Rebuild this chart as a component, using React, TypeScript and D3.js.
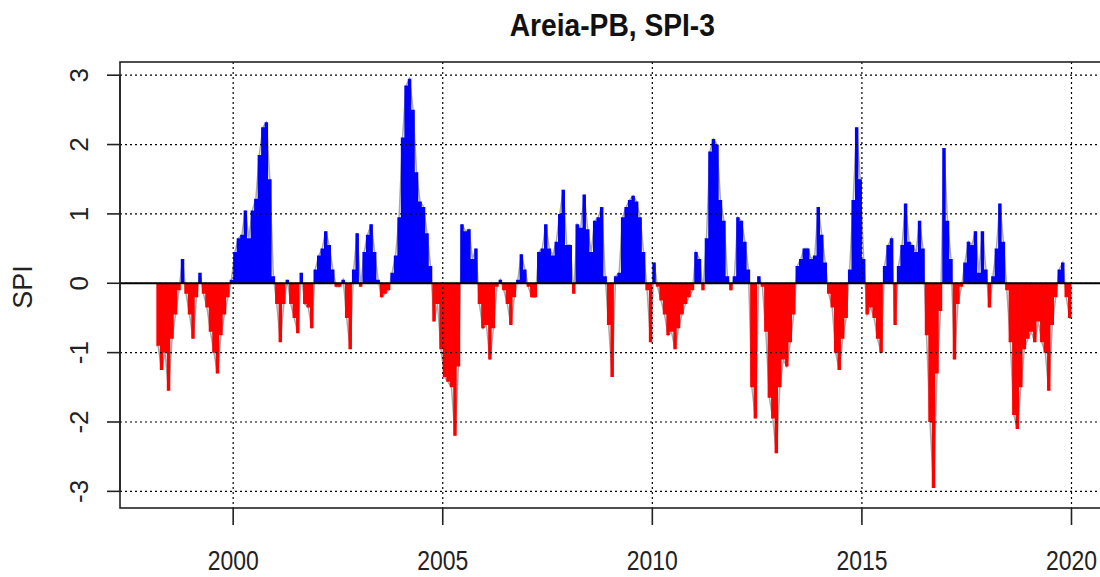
import React from 'react'
import * as d3 from 'd3'

// monthly SPI-3, Jan 1998 .. Dec 2019 (first two months are NA)
const firstYear = 1998
const spiValues: (number | null)[] = [
  null, null, -0.9, -1.25, -1.0, -1.55, -0.8, -0.45, -0.1, 0.35, -0.15, -0.45, // 1998
  -0.8, -0.2, 0.15, -0.15, -0.35, -0.7, -1.0, -1.3, -0.75, -0.45, -0.2, 0.05, // 1999
  0.45, 0.65, 0.7, 1.05, 0.65, 1.05, 1.22, 1.85, 2.25, 2.32, 1.5, 0.1, // 2000
  -0.3, -0.85, -0.3, 0.05, -0.3, -0.5, -0.72, 0.15, -0.3, -0.35, -0.65, 0.2, // 2001
  0.4, 0.5, 0.75, 0.55, 0.2, -0.05, -0.05, 0.05, -0.5, -0.95, 0.2, 0.72, // 2002
  -0.05, 0.45, 0.7, 0.85, 0.45, 0.05, -0.2, -0.15, -0.1, 0.15, 0.4, 0.95, // 2003
  2.1, 2.85, 2.95, 2.5, 1.6, 1.18, 1.1, 0.72, 0.25, -0.55, -0.3, -0.95, // 2004
  -1.35, -1.42, -1.5, -2.2, -1.2, 0.85, 0.75, 0.78, 0.35, 0.5, -0.3, -0.65, // 2005
  -0.6, -1.1, -0.65, -0.05, 0.05, -0.1, -0.3, -0.6, -0.2, 0.05, 0.42, 0.2, // 2006
  -0.05, -0.2, -0.2, 0.45, 0.5, 0.85, 0.5, 0.4, 0.6, 1.0, 1.35, 0.55, // 2007
  0.55, -0.15, 0.85, 0.8, 1.28, 0.78, 0.45, 0.9, 0.95, 1.1, 0.1, -0.6, // 2008
  -1.35, 0.1, 0.15, 0.95, 1.1, 1.2, 1.26, 1.18, 0.95, 0.45, -0.1, -0.85, // 2009
  0.3, -0.05, -0.25, -0.45, -0.75, -0.7, -0.95, -0.65, -0.45, -0.3, -0.2, -0.1, // 2010
  0.45, 0.35, -0.1, 0.65, 1.9, 2.08, 2.0, 1.2, 0.9, 0.1, -0.1, 0.1, // 2011
  0.95, 0.9, 0.6, 0.2, -1.5, -1.95, 0.1, -0.05, -0.7, -1.65, -1.95, -2.45, // 2012
  -1.5, -1.1, -1.2, -0.85, -0.45, 0.25, 0.35, 0.5, 0.5, 0.35, 0.4, 1.1, // 2013
  0.7, 0.3, -0.15, -0.35, -1.0, -1.25, -0.8, -0.5, 0.2, 1.2, 2.25, 1.5, // 2014
  0.35, -0.45, -0.35, -0.5, -0.8, -1.0, 0.25, 0.55, 0.65, -0.6, 0.25, 0.55, // 2015
  1.15, 0.6, 0.55, 0.45, 0.9, 0.5, -0.75, -2.0, -2.95, -1.3, -0.4, 1.95, // 2016
  0.9, 0.35, -1.1, -0.3, -0.05, 0.3, 0.6, 0.55, 0.75, 0.15, 0.75, 0.2, // 2017
  -0.35, 0.1, 0.5, 1.15, 0.6, -0.1, -0.85, -1.9, -2.1, -1.5, -0.95, -0.8, // 2018
  -0.7, -0.85, -0.55, -0.85, -1.0, -1.55, -0.6, -0.2, 0.2, 0.3, -0.2, -0.5, // 2019
]

const xTicks = [2000, 2005, 2010, 2015, 2020]
const yTicks = [-3, -2, -1, 0, 1, 2, 3]
const chartTitle = 'Areia-PB, SPI-3'
const yLabel = 'SPI'

type Pt = { t: number, v: number }

function drawChart(svgRef: React.RefObject<SVGSVGElement>) {
  const width = 1100
  const height = 577
  const left = 120, right = 1104.6, top = 62, bottom = 508

  const x = d3.scaleLinear().domain([1997.3, 2020.79]).range([left, right])
  const y = d3.scaleLinear().domain([-3.24, 3.19]).range([bottom, top])

  const svg = d3.select(svgRef.current)
    .attr('width', width)
    .attr('height', height)
    .attr('font-family', 'Liberation Sans, Arial, sans-serif')
  svg.selectAll('*').remove()

  const data = spiValues
    .map((v, i) => ({ t: firstYear + (i + 0.5) / 12, v }))
    .filter(d => d.v !== null) as Pt[]

  // pad half a month on each end so the stepped fill covers whole months
  const first = data[0], last = data[data.length - 1]
  const padded = [
    { t: first.t - 0.5 / 12, v: first.v },
    ...data,
    { t: last.t + 0.5 / 12, v: last.v },
  ]

  svg.append('clipPath').attr('id', 'plot-clip')
    .append('rect')
      .attr('x', left).attr('y', top)
      .attr('width', right - left).attr('height', bottom - top)

  const plot = svg.append('g').attr('clip-path', 'url(#plot-clip)')

  // grey series line underneath, only its tips show past the fills
  const line = d3.line<Pt>()
    .x(d => x(d.t))
    .y(d => y(d.v))

  plot.append('path')
    .attr('d', line(padded))
    .attr('fill', 'none')
    .attr('stroke', '#a9a9a9')
    .attr('stroke-width', 1.5)

  const posArea = d3.area<Pt>()
    .x(d => x(d.t))
    .y0(y(0))
    .y1(d => y(Math.max(d.v, 0)))
    .curve(d3.curveStep)

  const negArea = d3.area<Pt>()
    .x(d => x(d.t))
    .y0(y(0))
    .y1(d => y(Math.min(d.v, 0)))
    .curve(d3.curveStep)

  plot.append('path').attr('d', posArea(padded)).attr('fill', '#0000ff')
  plot.append('path').attr('d', negArea(padded)).attr('fill', '#ff0000')

  // dotted grid on top of the fills
  plot.append('g')
    .selectAll('line')
    .data(yTicks)
    .join('line')
      .attr('x1', left).attr('x2', right)
      .attr('y1', d => y(d)).attr('y2', d => y(d))
      .attr('stroke', 'black')
      .attr('stroke-width', 1.2)
      .attr('stroke-dasharray', '2,3')

  plot.append('g')
    .selectAll('line')
    .data(xTicks)
    .join('line')
      .attr('x1', d => x(d)).attr('x2', d => x(d))
      .attr('y1', top).attr('y2', bottom)
      .attr('stroke', 'black')
      .attr('stroke-width', 1.2)
      .attr('stroke-dasharray', '2,3')

  plot.append('line')
    .attr('x1', left).attr('x2', right)
    .attr('y1', y(0)).attr('y2', y(0))
    .attr('stroke', 'black')
    .attr('stroke-width', 1.8)

  svg.append('rect')
    .attr('x', left).attr('y', top)
    .attr('width', right - left).attr('height', bottom - top)
    .attr('fill', 'none')
    .attr('stroke', '#222')
    .attr('stroke-width', 1.6)

  // x axis
  const xAxis = svg.append('g')
  xAxis.selectAll('line')
    .data(xTicks)
    .join('line')
      .attr('x1', d => x(d)).attr('x2', d => x(d))
      .attr('y1', bottom).attr('y2', bottom + 17)
      .attr('stroke', '#222')
      .attr('stroke-width', 1.6)
  xAxis.selectAll('text')
    .data(xTicks)
    .join('text')
      .attr('transform', d => `translate(${x(d)},${570}) scale(0.82,1)`)
      .attr('text-anchor', 'middle')
      .attr('font-size', 28)
      .attr('fill', '#222')
      .text(d => d)

  // y axis
  const yAxis = svg.append('g')
  yAxis.append('line')
    .attr('x1', left).attr('x2', left)
    .attr('y1', y(-3)).attr('y2', y(3))
    .attr('stroke', '#222')
    .attr('stroke-width', 1.6)
  yAxis.selectAll('line.tick')
    .data(yTicks)
    .join('line')
      .attr('class', 'tick')
      .attr('x1', left - 13).attr('x2', left)
      .attr('y1', d => y(d)).attr('y2', d => y(d))
      .attr('stroke', '#222')
      .attr('stroke-width', 1.6)
  yAxis.selectAll('text')
    .data(yTicks)
    .join('text')
      .attr('transform', d => `translate(88,${y(d)}) rotate(-90)`)
      .attr('text-anchor', 'middle')
      .attr('font-size', 26)
      .attr('fill', '#222')
      .text(d => d)

  svg.append('text')
    .attr('transform', `translate(32,${(top + bottom) / 2 + 2}) rotate(-90)`)
    .attr('text-anchor', 'middle')
    .attr('font-size', 27)
    .attr('fill', '#222')
    .text(yLabel)

  svg.append('text')
    .attr('transform', `translate(${(left + right) / 2},36) scale(0.91,1)`)
    .attr('text-anchor', 'middle')
    .attr('font-size', 31)
    .attr('font-weight', 'bold')
    .attr('fill', '#111')
    .text(chartTitle)

  return svg.node()
}

const App: React.FunctionComponent = () => {
  const svg = React.useRef<SVGSVGElement>(null)

  React.useEffect(() => {
    drawChart(svg)
  }, [svg])

  return (
    <div id="chart">
      <svg ref={svg} style={{ position: 'absolute', left: 0, top: 0, background: 'white' }} />
    </div>
  )
}

export default App
